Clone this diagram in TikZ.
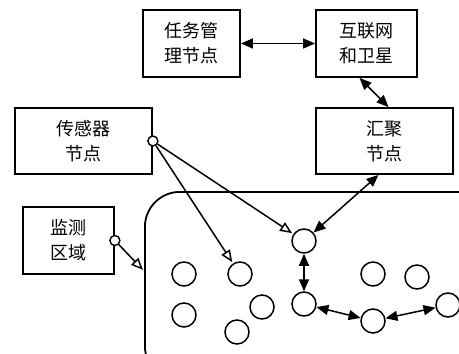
\documentclass[tikz,border=0pt]{standalone}
\usepackage{fontspec}
\newfontfamily\cjkfont{Noto Sans CJK SC}
\usetikzlibrary{
  arrows.meta,
  positioning
}

\begin{document}
\begin{tikzpicture}[
  x=1pt, y=-1pt,
  every node/.style={font=\cjkfont\fontsize{18}{25}\selectfont},
  unit/.style={draw, line width=1.8pt, align=center, inner sep=0pt},
  mote/.style={draw, circle, line width=1.5pt, minimum size=24pt, inner sep=0pt},
  port/.style={draw, circle, fill=white, line width=1.4pt, minimum size=10pt, inner sep=0pt},
  link/.style={{Triangle[length=12pt,width=10pt]}-{Triangle[length=12pt,width=10pt]}, line width=1.5pt},
  feed/.style={-{Triangle[open,length=12pt,width=10pt]}, line width=1.5pt, shorten >=1.5pt},
]

\useasboundingbox (0,0) rectangle (459,354);
\clip (0,0) rectangle (459,354);

% ═══════════════════════════════════════════
% UPPER BOXES
% ═══════════════════════════════════════════
\node[unit, minimum width=97pt, minimum height=67pt] (task) at (191.5,43.5) {任务管\\理节点};
\node[unit, minimum width=101pt, minimum height=67pt] (inet) at (366.5,43.5) {互联网\\和卫星};
\node[unit, minimum width=137pt, minimum height=66pt] (sens) at (83.5,141) {传感器\\节点};
\node[unit, minimum width=137pt, minimum height=66pt] (sink) at (384.5,141) {汇聚\\节点};
\node[unit, minimum width=91pt, minimum height=67pt] (mon) at (68.5,240.5) {监测\\区域};

% ═══════════════════════════════════════════
% MONITORED AREA (runs off the page)
% ═══════════════════════════════════════════
\node[draw, line width=1.8pt, rounded corners=35pt, minimum width=346pt,
  minimum height=189pt, anchor=north west] (area) at (144,191) {};
\coordinate (areain) at (144,271);

% sensor motes
\node[mote] (head) at (304,241) {};
\node[mote] (hop1) at (304,304) {};
\node[mote] (hop2) at (373,321) {};
\node[mote] (hop3) at (448,305) {};
\node[mote] (sn2) at (240,274) {};
\foreach \i/\p in {1/{184,274}, 3/{184,315}, 4/{262,307}, 5/{237,332}, 6/{373,274}, 7/{417,277}} {
  \node[mote] (sn\i) at (\p) {};
}

% ═══════════════════════════════════════════
% CONNECTIONS
% ═══════════════════════════════════════════
\draw[link] (task) -- (inet);
\draw[link] ([xshift=-7pt]inet.south) -- ([xshift=4pt]sink.north);
\draw[link] ([xshift=-6pt]sink.south) -- (head);
\draw[link] (head) -- (hop1);
\draw[link] (hop1) -- (hop2);
\draw[link] (hop2) -- (hop3);

% deployment arrows
\node[port] (sensdot) at (sens.east) {};
\node[port] (mondot) at (mon.east) {};
\draw[feed] (sensdot) -- (head);
\draw[feed] (sensdot) -- (sn2);
\draw[feed] (mondot) -- (areain);

\end{tikzpicture}
\end{document}
